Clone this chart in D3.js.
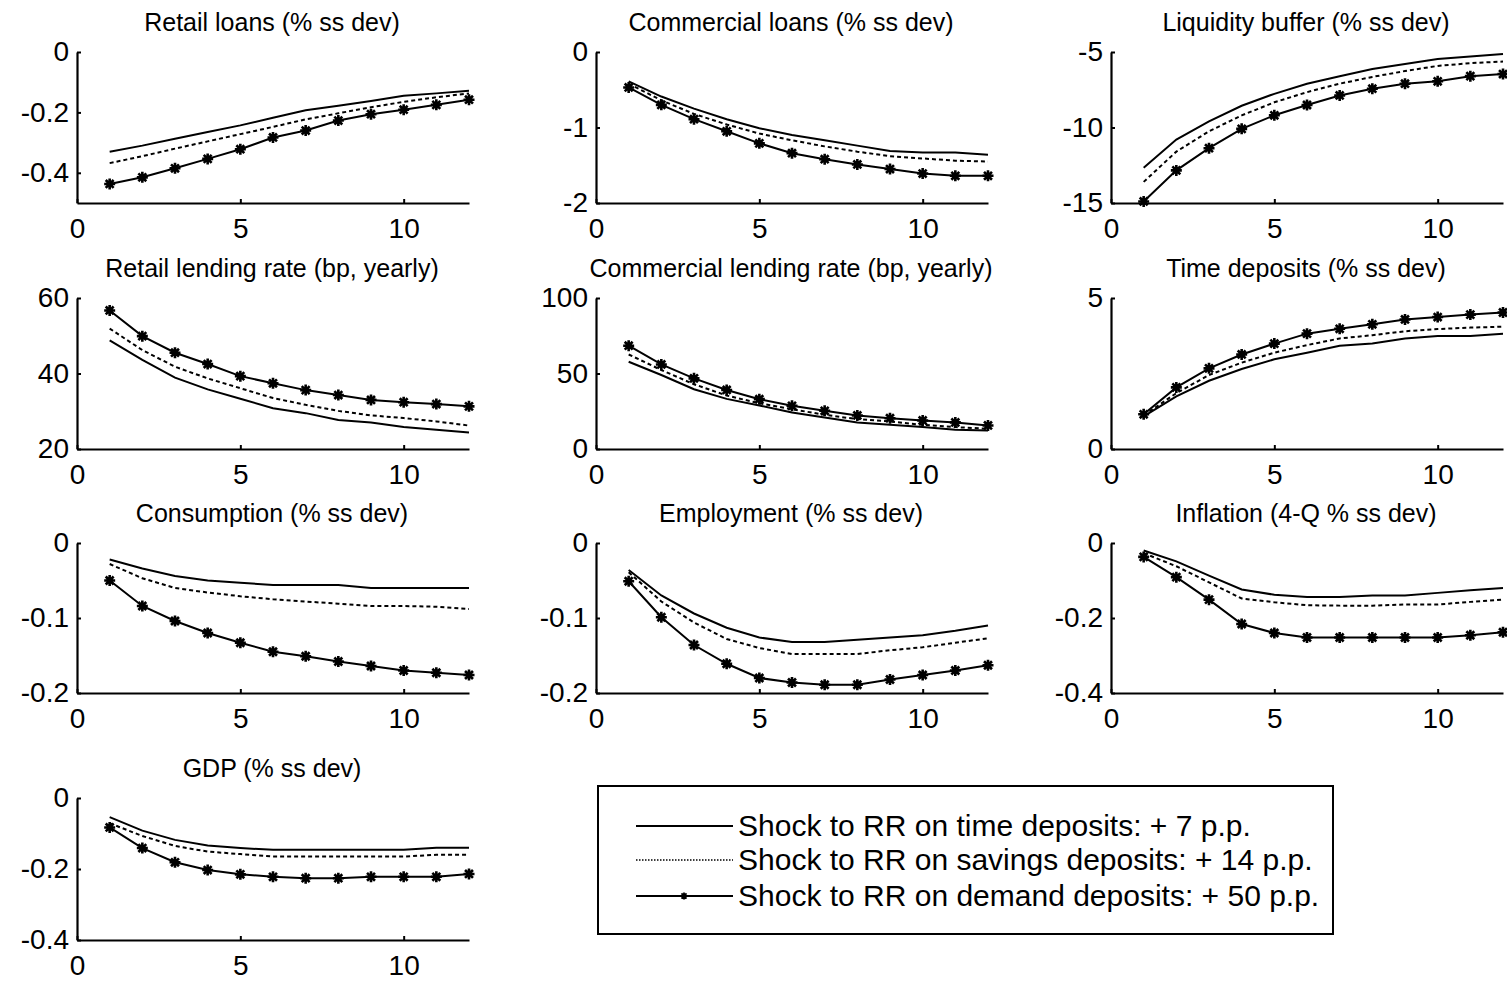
<!DOCTYPE html>
<html>
<head>
<meta charset="utf-8">
<script src="https://cdn.jsdelivr.net/npm/d3@7"></script>
<style>
  body { margin: 0; background: #fff; }
  svg { display: block; font-family: "Liberation Sans", Arial, sans-serif; }
</style>
</head>
<body>
<div id="chart"></div>
<script>
// periods after the shock (quarters)
const periods = [1, 2, 3, 4, 5, 6, 7, 8, 9, 10, 11, 12]
const xTicks = [0, 5, 10]

const seriesNames = [
  "Shock to RR on time deposits: + 7 p.p.",
  "Shock to RR on savings deposits: + 14 p.p.",
  "Shock to RR on demand deposits: + 50 p.p."
]

// each panel: [time deposits shock, savings deposits shock, demand deposits shock]
const retailLoans = [
  [-0.33, -0.31, -0.287, -0.265, -0.243, -0.218, -0.193, -0.178, -0.162, -0.145, -0.137, -0.128],
  [-0.368, -0.345, -0.32, -0.296, -0.272, -0.248, -0.223, -0.203, -0.183, -0.165, -0.15, -0.137],
  [-0.437, -0.415, -0.385, -0.354, -0.322, -0.283, -0.26, -0.227, -0.206, -0.191, -0.175, -0.158]
]
const commercialLoans = [
  [-0.39, -0.59, -0.75, -0.89, -1.01, -1.1, -1.17, -1.24, -1.31, -1.33, -1.33, -1.36],
  [-0.42, -0.64, -0.82, -0.96, -1.08, -1.17, -1.25, -1.32, -1.38, -1.41, -1.44, -1.45],
  [-0.47, -0.7, -0.89, -1.05, -1.21, -1.34, -1.42, -1.49, -1.55, -1.61, -1.64, -1.64]
]
const liquidityBuffer = [
  [-12.66, -10.8, -9.6, -8.56, -7.77, -7.1, -6.6, -6.13, -5.8, -5.47, -5.3, -5.14],
  [-13.6, -11.6, -10.25, -9.2, -8.33, -7.66, -7.1, -6.65, -6.26, -5.92, -5.74, -5.63],
  [-14.9, -12.84, -11.37, -10.09, -9.19, -8.51, -7.88, -7.43, -7.1, -6.94, -6.6, -6.46]
]
const retailRate = [
  [48.8, 43.6, 38.9, 35.8, 33.3, 30.8, 29.5, 27.7, 27.0, 25.8, 25.1, 24.4],
  [51.9, 46.2, 41.8, 38.7, 36.1, 33.5, 31.7, 30.1, 28.9, 28.2, 27.3, 26.2],
  [56.7, 49.9, 45.5, 42.5, 39.3, 37.4, 35.6, 34.3, 33.0, 32.4, 31.9, 31.3]
]
const commercialRate = [
  [57.8, 49, 39.6, 33.2, 28.8, 24.2, 20.9, 17.6, 16, 14.5, 12.7, 12.3],
  [62.6, 52.3, 42.9, 35.4, 30.3, 26.4, 22.6, 19.8, 18.2, 16, 14.5, 13.4],
  [68.4, 56, 46.8, 39.1, 33, 28.6, 25.3, 22.2, 20.4, 18.9, 17.6, 15.6]
]
const timeDeposits = [
  [1.08, 1.74, 2.26, 2.65, 2.97, 3.19, 3.42, 3.49, 3.66, 3.74, 3.74, 3.82],
  [1.11, 1.85, 2.45, 2.86, 3.19, 3.44, 3.66, 3.77, 3.9, 3.97, 4.02, 4.05],
  [1.15, 2.04, 2.67, 3.13, 3.49, 3.82, 3.98, 4.13, 4.29, 4.37, 4.45, 4.52]
]
const consumption = [
  [-0.022, -0.034, -0.044, -0.05, -0.053, -0.056, -0.056, -0.056, -0.06, -0.06, -0.06, -0.06],
  [-0.028, -0.047, -0.06, -0.066, -0.071, -0.075, -0.078, -0.081, -0.084, -0.084, -0.085, -0.088],
  [-0.05, -0.084, -0.104, -0.12, -0.133, -0.145, -0.151, -0.158, -0.164, -0.17, -0.173, -0.176]
]
const employment = [
  [-0.036, -0.07, -0.094, -0.113, -0.126, -0.132, -0.132, -0.129, -0.126, -0.123, -0.117, -0.11],
  [-0.039, -0.078, -0.106, -0.128, -0.14, -0.148, -0.148, -0.148, -0.143, -0.139, -0.133, -0.127],
  [-0.051, -0.099, -0.136, -0.161, -0.18, -0.186, -0.189, -0.189, -0.182, -0.176, -0.17, -0.163]
]
const inflation = [
  [-0.02, -0.049, -0.087, -0.124, -0.138, -0.144, -0.144, -0.14, -0.14, -0.133, -0.126, -0.12],
  [-0.027, -0.062, -0.105, -0.148, -0.158, -0.166, -0.167, -0.167, -0.164, -0.164, -0.157, -0.151],
  [-0.037, -0.091, -0.151, -0.216, -0.24, -0.252, -0.252, -0.252, -0.252, -0.252, -0.246, -0.238]
]
const gdp = [
  [-0.054, -0.092, -0.118, -0.134, -0.141, -0.146, -0.146, -0.146, -0.146, -0.146, -0.14, -0.14],
  [-0.071, -0.107, -0.135, -0.151, -0.158, -0.165, -0.165, -0.165, -0.165, -0.165, -0.16, -0.16],
  [-0.083, -0.141, -0.181, -0.203, -0.215, -0.222, -0.226, -0.226, -0.222, -0.222, -0.222, -0.214]
]

const titles = [
  "Retail loans (% ss dev)", "Commercial loans (% ss dev)", "Liquidity buffer (% ss dev)",
  "Retail lending rate (bp, yearly)", "Commercial lending rate (bp, yearly)", "Time deposits (% ss dev)",
  "Consumption (% ss dev)", "Employment (% ss dev)", "Inflation (4-Q % ss dev)",
  "GDP (% ss dev)"
]
const panelData = [retailLoans, commercialLoans, liquidityBuffer, retailRate, commercialRate,
  timeDeposits, consumption, employment, inflation, gdp]
const yDomains = [[-0.5, 0], [-2, 0], [-15, -5], [20, 60], [0, 100], [0, 5],
  [-0.2, 0], [-0.2, 0], [-0.4, 0], [-0.4, 0]]
const yTicks = [[0, -0.2, -0.4], [0, -1, -2], [-5, -10, -15], [60, 40, 20], [100, 50, 0], [5, 0],
  [0, -0.1, -0.2], [0, -0.1, -0.2], [0, -0.2, -0.4], [0, -0.2, -0.4]]

const width = 1507
const height = 983

// subplot boxes
const colLeft = [77, 596, 1111]
const colWidth = 392
const rowTop = [52, 298, 543, 798]
const rowHeight = [151, 151, 150, 142]

const svg = d3.select("#chart").append("svg")
  .attr("width", width)
  .attr("height", height)

const fmt = d => String(d)

// MATLAB style '*' marker
const star = (s) => `M${-s},0H${s}M0,${-s}V${s}M${-s * 0.72},${-s * 0.72}L${s * 0.72},${s * 0.72}M${-s * 0.72},${s * 0.72}L${s * 0.72},${-s * 0.72}`

panelData.forEach((series, i) => {
  const col = i % 3
  const row = Math.floor(i / 3)
  const x0 = colLeft[col]
  const y0 = rowTop[row]
  const h = rowHeight[row]

  const x = d3.scaleLinear().domain([0, 12]).range([0, colWidth])
  const y = d3.scaleLinear().domain(yDomains[i]).range([h, 0])

  const g = svg.append("g").attr("transform", `translate(${x0},${y0})`)

  g.append("text")
    .attr("x", colWidth / 2 - 1)
    .attr("y", -21)
    .attr("text-anchor", "middle")
    .attr("font-size", 25)
    .attr("fill", "#000")
    .text(titles[i])

  const line = d3.line()
    .x((d, j) => x(periods[j]))
    .y(d => y(d))

  // time deposits shock - solid
  g.append("path")
    .attr("d", line(series[0]))
    .attr("fill", "none")
    .attr("stroke", "#000")
    .attr("stroke-width", 2)

  // savings deposits shock - dashed
  g.append("path")
    .attr("d", line(series[1]))
    .attr("fill", "none")
    .attr("stroke", "#000")
    .attr("stroke-width", 2)
    .attr("stroke-dasharray", "4,3")

  // demand deposits shock - solid with stars
  g.append("path")
    .attr("d", line(series[2]))
    .attr("fill", "none")
    .attr("stroke", "#000")
    .attr("stroke-width", 2)

  g.append("g")
    .selectAll("path")
    .data(series[2])
    .join("path")
    .attr("transform", (d, j) => `translate(${x(periods[j])},${y(d)})`)
    .attr("d", star(5.5))
    .attr("stroke", "#000")
    .attr("stroke-width", 2.6)

  const xAxis = g.append("g")
    .attr("transform", `translate(0,${h})`)
    .call(d3.axisBottom(x).tickValues(xTicks).tickFormat(fmt).tickSizeInner(-4).tickSizeOuter(0).tickPadding(15))
  const yAxis = g.append("g")
    .call(d3.axisLeft(y).tickValues(yTicks[i]).tickFormat(fmt).tickSizeInner(-4).tickSizeOuter(0).tickPadding(8))

  ;[xAxis, yAxis].forEach(ax => {
    ax.select(".domain").attr("stroke-width", 2.2)
    ax.selectAll(".tick line").attr("stroke-width", 2)
    ax.selectAll("text")
      .attr("font-size", 28)
      .attr("font-family", "Liberation Sans, Arial, sans-serif")
      .attr("fill", "#000")
  })
})

// legend
const legend = svg.append("g").attr("transform", "translate(598,786)")
legend.append("rect")
  .attr("width", 735)
  .attr("height", 148)
  .attr("fill", "#fff")
  .attr("stroke", "#000")
  .attr("stroke-width", 2)

const legendRows = [40, 74, 110]
seriesNames.forEach((name, i) => {
  const row = legend.append("g").attr("transform", `translate(0,${legendRows[i]})`)
  row.append("line")
    .attr("x1", 38).attr("x2", 135)
    .attr("stroke", "#000")
    .attr("stroke-width", i === 1 ? 1.5 : 2)
    .attr("stroke-dasharray", i === 1 ? "1.5,1.5" : null)
  if (i === 2) {
    row.append("path").attr("transform", "translate(86,0)").attr("d", star(3.5))
      .attr("stroke", "#000").attr("stroke-width", 1.8)
  }
  row.append("text")
    .attr("x", 140)
    .attr("y", 10)
    .attr("font-size", 30)
    .attr("fill", "#000")
    .text(name)
})
</script>
</body>
</html>
